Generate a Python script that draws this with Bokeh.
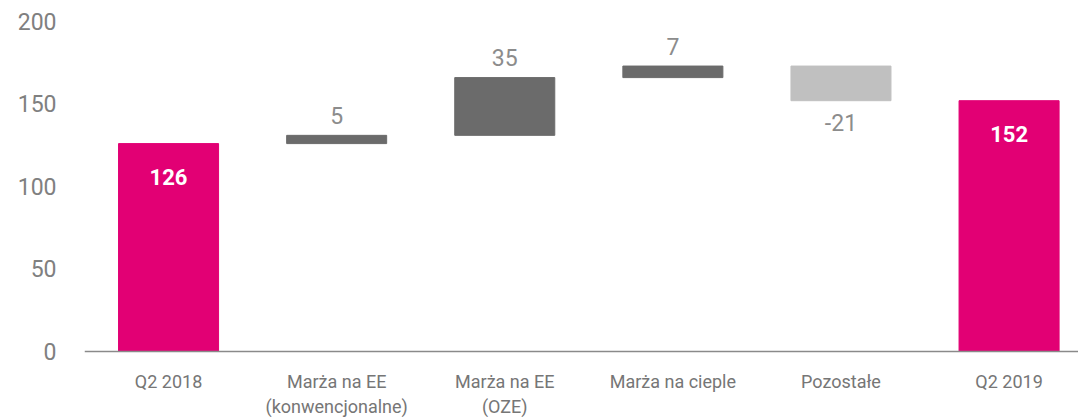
from bokeh.plotting import figure
from bokeh.models import ColumnDataSource, FixedTicker, Range1d, Span
from bokeh.core.properties import value
from bokeh.embed import file_html
from bokeh.resources import INLINE

categories = ["Q2 2018", "Marża na EE", "Marża na EE", "Marża na cieple", "Pozostałe", "Q2 2019"]
categories_line2 = ["", "(konwencjonalne)", "(OZE)", "", "", ""]
values = [126, 5, 35, 7, -21, 152]
is_total = [True, False, False, False, False, True]
y_ticks = [0, 50, 100, 150, 200]

MAGENTA = "#E20074"
DARK = "#6B6B6B"
LIGHT = "#C0C0C0"
FONT = "Roboto"

xs, bottoms, tops, colors = [], [], [], []
running = 0
for i, (v, t) in enumerate(zip(values, is_total)):
    xs.append(i)
    if t:
        b, tp = 0, v
        running = v
        colors.append(MAGENTA)
    else:
        if v >= 0:
            b, tp = running, running + v
            colors.append(DARK)
        else:
            b, tp = running + v, running
            colors.append(LIGHT)
        running += v
    bottoms.append(b)
    tops.append(tp)

src = ColumnDataSource(dict(x=xs, bottom=bottoms, top=tops, color=colors))

# frame spans the full height below the top margin; category labels sit under y=0
p = figure(width=1078, height=417, output_backend="svg", toolbar_location=None,
           x_range=Range1d(-0.5, 5.413), y_range=Range1d(-40, 206.06),
           min_border_left=84, min_border_right=0, min_border_top=11, min_border_bottom=0)
p.outline_line_color = None
p.xgrid.visible = False
p.ygrid.visible = False
p.xaxis.visible = False

p.vbar(x="x", bottom="bottom", top="top", width=0.595, color="color", source=src)

# baseline (category axis line)
p.add_layout(Span(location=0, dimension="width", line_color="#8a8a8a", line_width=1.5))

# value labels
in_x, in_y, in_t = [], [], []
up_x, up_y, up_t = [], [], []
dn_x, dn_y, dn_t = [], [], []
for i, v in enumerate(values):
    if is_total[i]:
        in_x.append(i); in_y.append(tops[i]); in_t.append(str(v))
    elif v >= 0:
        up_x.append(i); up_y.append(tops[i]); up_t.append(str(v))
    else:
        dn_x.append(i); dn_y.append(bottoms[i]); dn_t.append(str(v))

p.text(x=in_x, y=in_y, text=in_t, text_align="center", text_baseline="middle", y_offset=33,
       text_font=value(FONT), text_font_size="22px", text_font_style="bold", text_color="white")
p.text(x=up_x, y=up_y, text=up_t, text_align="center", text_baseline="alphabetic", y_offset=-20,
       text_font=value(FONT), text_font_size="23px", text_color="#8c8c8c")
p.text(x=dn_x, y=dn_y, text=dn_t, text_align="center", text_baseline="top", y_offset=13,
       text_font=value(FONT), text_font_size="23px", text_color="#8c8c8c")

# category labels (two lines) under the baseline
cat_x = list(range(len(categories)))
p.text(x=cat_x, y=[0] * len(cat_x), text=categories, text_align="center", text_baseline="middle",
       y_offset=30, text_font=value(FONT), text_font_size="18px", text_color="#767676")
p.text(x=cat_x, y=[0] * len(cat_x), text=categories_line2, text_align="center",
       text_baseline="middle", y_offset=55, text_font=value(FONT), text_font_size="18px",
       text_color="#767676")

# y axis
ya = p.yaxis[0]
ya.ticker = FixedTicker(ticks=y_ticks)
ya.axis_line_color = None
ya.major_tick_line_color = None
ya.minor_tick_line_color = None
ya.major_tick_in = 0
ya.major_tick_out = 0
ya.major_label_standoff = 28
ya.major_label_text_font = FONT
ya.major_label_text_font_size = "23px"
ya.major_label_text_color = "#808080"

open("out.html", "w").write(file_html(p, INLINE))
